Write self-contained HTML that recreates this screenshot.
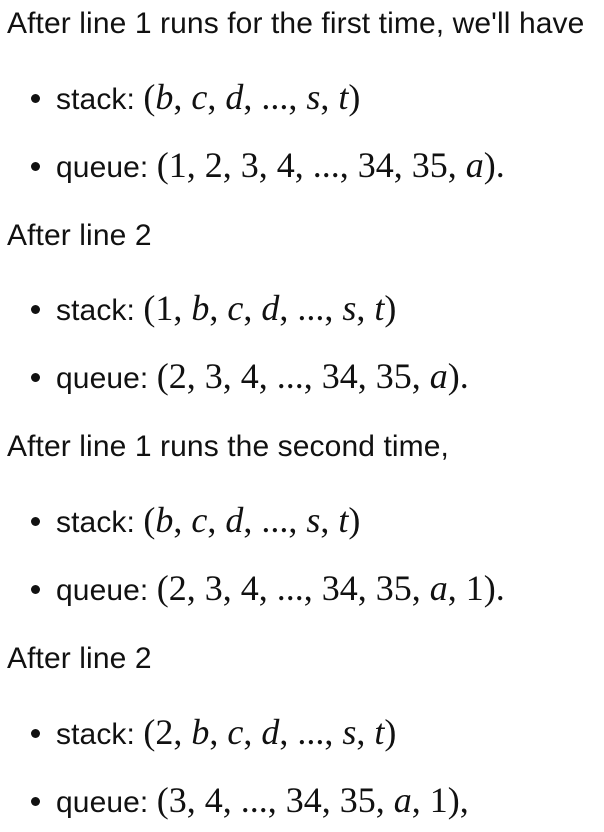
<!DOCTYPE html>
<html><head><meta charset="utf-8"><style>
body{margin:0;width:604px;height:832px;background:#fff;position:relative;overflow:hidden;font-family:"Liberation Sans",sans-serif;color:#111}
.l{position:absolute;left:7px;height:40px;line-height:40px;font-size:30px;white-space:nowrap;letter-spacing:0.1px}
.b{left:56px}
.b:before{content:"";position:absolute;left:-25px;top:17px;width:9px;height:9px;border-radius:50%;background:#111}
.m{font-family:"Liberation Serif",serif;font-size:36px;letter-spacing:0}
i{font-family:"Liberation Serif",serif}
</style></head><body>
<div class="l" style="top:4px">After line 1 runs for the first time, we'll have</div>
<div class="l b" style="top:77px">stack: <span class="m">(<i>b</i>, <i>c</i>, <i>d</i>, ..., <i>s</i>, <i>t</i>)</span></div>
<div class="l b" style="top:145px">queue: <span class="m">(1, 2, 3, 4, ..., 34, 35, <i>a</i>).</span></div>
<div class="l" style="top:216px">After line 2</div>
<div class="l b" style="top:288px">stack: <span class="m">(1, <i>b</i>, <i>c</i>, <i>d</i>, ..., <i>s</i>, <i>t</i>)</span></div>
<div class="l b" style="top:356px">queue: <span class="m">(2, 3, 4, ..., 34, 35, <i>a</i>).</span></div>
<div class="l" style="top:427px">After line 1 runs the second time,</div>
<div class="l b" style="top:500px">stack: <span class="m">(<i>b</i>, <i>c</i>, <i>d</i>, ..., <i>s</i>, <i>t</i>)</span></div>
<div class="l b" style="top:568px">queue: <span class="m">(2, 3, 4, ..., 34, 35, <i>a</i>, 1).</span></div>
<div class="l" style="top:639px">After line 2</div>
<div class="l b" style="top:712px">stack: <span class="m">(2, <i>b</i>, <i>c</i>, <i>d</i>, ..., <i>s</i>, <i>t</i>)</span></div>
<div class="l b" style="top:780px">queue: <span class="m">(3, 4, ..., 34, 35, <i>a</i>, 1),</span></div>
</body></html>
